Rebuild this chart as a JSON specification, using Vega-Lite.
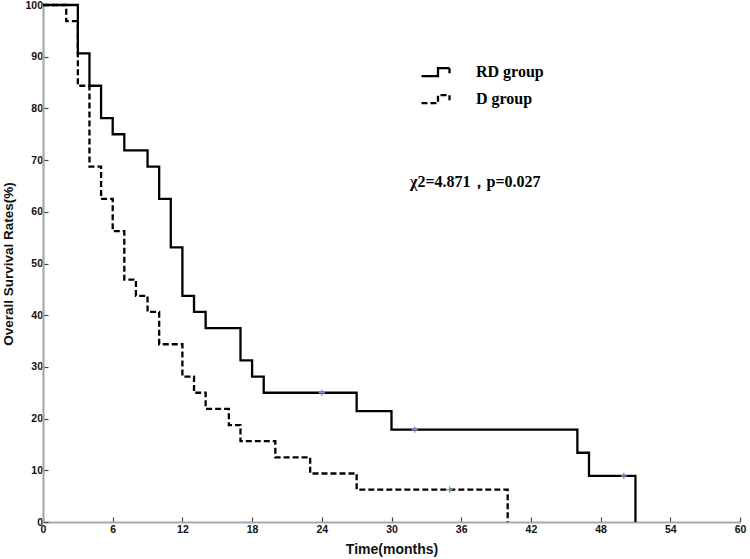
{
  "$schema": "https://vega.github.io/schema/vega-lite/v6.json",
  "width": 697,
  "height": 517,
  "autosize": {"type": "none"},
  "padding": {"left": 43, "top": 5, "right": 10, "bottom": 37},
  "background": "white",
  "config": {
    "view": {"stroke": null},
    "axis": {
      "grid": false,
      "domainColor": "#a8a8a8",
      "domainWidth": 2.2,
      "tickColor": "#444444",
      "tickWidth": 1.2,
      "labelFont": "Liberation Sans",
      "labelFontWeight": "bold",
      "labelFontSize": 10.5,
      "labelColor": "#111111",
      "titleFont": "Liberation Sans",
      "titleFontWeight": "bold",
      "titleColor": "#111111",
      "labelFlush": false,
      "labelOverlap": false,
      "labelBound": false
    }
  },
  "datasets": {
    "curve": [
      {"group": "RD group", "time": 0, "surv": 100},
      {"group": "RD group", "time": 3, "surv": 90.63},
      {"group": "RD group", "time": 4, "surv": 84.38},
      {"group": "RD group", "time": 5, "surv": 78.13},
      {"group": "RD group", "time": 6, "surv": 75.0},
      {"group": "RD group", "time": 7, "surv": 71.88},
      {"group": "RD group", "time": 9, "surv": 68.75},
      {"group": "RD group", "time": 10, "surv": 62.5},
      {"group": "RD group", "time": 11, "surv": 53.13},
      {"group": "RD group", "time": 12, "surv": 43.75},
      {"group": "RD group", "time": 13, "surv": 40.63},
      {"group": "RD group", "time": 14, "surv": 37.5},
      {"group": "RD group", "time": 17, "surv": 31.25},
      {"group": "RD group", "time": 18, "surv": 28.13},
      {"group": "RD group", "time": 19, "surv": 25.0},
      {"group": "RD group", "time": 27, "surv": 21.43},
      {"group": "RD group", "time": 30, "surv": 17.86},
      {"group": "RD group", "time": 46, "surv": 13.39},
      {"group": "RD group", "time": 47, "surv": 8.93},
      {"group": "RD group", "time": 51, "surv": 0},
      {"group": "D group", "time": 0, "surv": 100},
      {"group": "D group", "time": 2, "surv": 96.88},
      {"group": "D group", "time": 3, "surv": 84.38},
      {"group": "D group", "time": 4, "surv": 68.75},
      {"group": "D group", "time": 5, "surv": 62.5},
      {"group": "D group", "time": 6, "surv": 56.25},
      {"group": "D group", "time": 7, "surv": 46.88},
      {"group": "D group", "time": 8, "surv": 43.75},
      {"group": "D group", "time": 9, "surv": 40.63},
      {"group": "D group", "time": 10, "surv": 34.38},
      {"group": "D group", "time": 12, "surv": 28.13},
      {"group": "D group", "time": 13, "surv": 25.0},
      {"group": "D group", "time": 14, "surv": 21.88},
      {"group": "D group", "time": 16, "surv": 18.75},
      {"group": "D group", "time": 17, "surv": 15.63},
      {"group": "D group", "time": 20, "surv": 12.5},
      {"group": "D group", "time": 23, "surv": 9.38},
      {"group": "D group", "time": 27, "surv": 6.25},
      {"group": "D group", "time": 40, "surv": 0}
    ],
    "censor": [
      {"arm": "RD", "time": 24, "surv": 25.0},
      {"arm": "RD", "time": 32, "surv": 17.86},
      {"arm": "RD", "time": 50, "surv": 8.93},
      {"arm": "D", "time": 35, "surv": 6.25}
    ],
    "note": [
      {"label": "χ2=4.871，p=0.027", "time": 31.6, "surv": 65.8}
    ]
  },
  "layer": [
    {
      "data": {"name": "curve"},
      "mark": {"type": "line", "interpolate": "step-after", "color": "black", "strokeWidth": 2.3},
      "encoding": {
        "x": {
          "field": "time", "type": "quantitative",
          "scale": {"domain": [0, 60], "nice": false, "zero": true},
          "axis": {
            "title": "Time(months)",
            "titleFontSize": 14,
            "titlePadding": 8,
            "values": [0, 6, 12, 18, 24, 30, 36, 42, 48, 54, 60],
            "tickSize": -5,
            "labelPadding": 7
          }
        },
        "y": {
          "field": "surv", "type": "quantitative",
          "scale": {"domain": [0, 100], "nice": false},
          "axis": {
            "title": "Overall Survival Rates(%)",
            "titleFontSize": 13.5,
            "titlePadding": 9,
            "values": [0, 10, 20, 30, 40, 50, 60, 70, 80, 90, 100],
            "tickSize": -5,
            "labelPadding": 5.5
          }
        },
        "strokeDash": {
          "field": "group", "type": "nominal",
          "scale": {"domain": ["RD group", "D group"], "range": [[1, 0], [6, 3]]},
          "legend": {
            "title": null,
            "orient": "none",
            "legendX": 382,
            "legendY": 55.7,
            "padding": 0,
            "symbolType": "M-1.5,0.4H0.15V-0.4H1.3V0.1",
            "symbolSize": 400,
            "symbolStrokeWidth": 2.3,
            "symbolStrokeColor": "black",
            "symbolFillColor": "transparent",
            "labelFont": "Liberation Serif",
            "labelFontWeight": "bold",
            "labelFontSize": 16,
            "labelColor": "black",
            "labelOffset": 28,
            "rowPadding": 6
          }
        }
      }
    },
    {
      "data": {"name": "censor"},
      "mark": {"type": "point", "shape": "M-1,0H1M0,-1V1", "size": 40, "filled": false, "strokeWidth": 1.3, "opacity": 1},
      "encoding": {
        "x": {"field": "time", "type": "quantitative"},
        "y": {"field": "surv", "type": "quantitative"},
        "color": {
          "field": "arm", "type": "nominal",
          "scale": {"domain": ["RD", "D"], "range": ["#7b8dc9", "#4cb567"]},
          "legend": null
        }
      }
    },
    {
      "data": {"name": "note"},
      "mark": {"type": "text", "align": "left", "baseline": "middle", "font": "Liberation Serif", "fontWeight": "bold", "fontSize": 16, "color": "black"},
      "encoding": {
        "x": {"field": "time", "type": "quantitative"},
        "y": {"field": "surv", "type": "quantitative"},
        "text": {"field": "label"}
      }
    }
  ]
}
